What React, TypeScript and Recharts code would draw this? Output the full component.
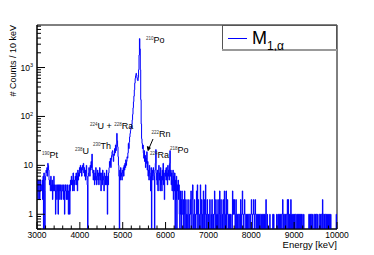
import { Legend, Line, LineChart, ReferenceArea, ReferenceDot, XAxis, YAxis } from 'recharts';

const FONT = '"Liberation Sans", Arial, sans-serif';

// 10 keV bins starting at 3000 keV, one row per 100 keV
const binStart = 3000;
const binWidth = 10;
const counts: number[] = [
  3, 5, 2, 4, 5, 3, 2, 5, 3, 4,
  4, 3, 5, 2, 6, 0, 7, 3, 0, 5,
  6, 8, 7, 9, 6, 11, 10, 8, 5, 4,
  5, 3, 6, 4, 3, 5, 2, 4, 3, 6,
  3, 4, 3, 1, 4, 3, 2, 4, 3, 1,
  4, 3, 4, 2, 3, 4, 3, 2, 4, 3,
  3, 4, 2, 3, 1, 4, 3, 4, 2, 3,
  2, 4, 3, 1, 3, 4, 1, 3, 5, 4,
  6, 4, 5, 3, 7, 4, 3, 5, 4, 6,
  5, 7, 4, 6, 3, 8, 5, 7, 6, 9,
  8, 10, 7, 9, 6, 8, 10, 9, 11, 7,
  9, 6, 8, 5, 7, 10, 6, 4, 0, 6,
  7, 9, 8, 6, 10, 8, 12, 9, 17, 8,
  7, 5, 8, 6, 4, 7, 5, 9, 6, 4,
  6, 8, 5, 7, 4, 6, 9, 5, 7, 3,
  5, 7, 4, 8, 6, 5, 3, 7, 6, 4,
  6, 4, 8, 5, 1, 6, 4, 7, 9, 12,
  10, 14, 9, 13, 16, 19, 20, 15, 12, 17,
  16, 22, 18, 26, 20, 28, 45, 32, 24, 15,
  10, 6, 0, 8, 5, 9, 6, 7, 5, 8,
  7, 9, 6, 10, 8, 11, 9, 13, 10, 12,
  15, 14, 18, 28, 22, 30, 38, 45, 52, 60,
  58, 70, 85, 110, 150, 200, 260, 350, 480, 600,
  680, 760, 700, 620, 560, 540, 620, 900, 1800, 3900,
  2400, 900, 220, 70, 35, 28, 22, 26, 18, 14,
  20, 12, 16, 9, 14, 11, 19, 8, 12, 6,
  8, 5, 10, 7, 6, 3, 9, 0, 6, 8,
  5, 9, 7, 6, 0, 8, 11, 21, 7, 5,
  4, 8, 3, 6, 10, 5, 7, 3, 9, 4,
  6, 3, 8, 5, 11, 4, 7, 2, 5, 8,
  6, 9, 5, 7, 4, 10, 6, 8, 5, 11,
  20, 6, 8, 4, 7, 3, 5, 8, 2, 6,
  3, 7, 0, 5, 2, 6, 0, 4, 3, 5,
  2, 4, 1, 0, 3, 1, 2, 0, 3, 1,
  1, 2, 0, 1, 3, 0, 1, 2, 0, 1,
  0, 1, 2, 1, 0, 1, 0, 2, 1, 3,
  1, 0, 2, 4, 1, 0, 1, 2, 0, 1,
  0, 1, 3, 1, 4, 0, 2, 1, 0, 1,
  1, 4, 0, 1, 2, 0, 1, 0, 3, 1,
  0, 2, 1, 4, 0, 1, 0, 2, 1, 0,
  1, 0, 1, 2, 0, 0, 1, 0, 2, 1,
  0, 1, 0, 1, 3, 1, 0, 2, 1, 0,
  1, 0, 2, 1, 0, 1, 3, 0, 1, 2,
  1, 0, 1, 0, 2, 1, 0, 3, 1, 0,
  1, 3, 0, 1, 2, 1, 0, 1, 1, 0,
  1, 0, 1, 0, 0, 0, 3, 1, 2, 1,
  2, 1, 0, 1, 2, 0, 1, 1, 0, 1,
  1, 0, 1, 1, 0, 2, 1, 0, 1, 3,
  1, 1, 0, 1, 2, 1, 1, 0, 1, 0,
  1, 0, 1, 1, 0, 1, 1, 0, 1, 1,
  2, 1, 0, 1, 1, 2, 1, 0, 1, 2,
  1, 0, 1, 1, 0, 1, 0, 1, 1, 0,
  1, 1, 0, 0, 1, 0, 1, 1, 0, 1,
  0, 1, 0, 1, 2, 1, 0, 1, 0, 0,
  0, 0, 0, 1, 0, 0, 0, 0, 0, 0,
  1, 0, 1, 0, 0, 0, 0, 0, 0, 1,
  0, 0, 1, 0, 1, 1, 0, 1, 0, 1,
  1, 0, 1, 2, 1, 0, 1, 1, 0, 1,
  0, 1, 1, 0, 2, 1, 2, 0, 1, 0,
  1, 0, 2, 1, 0, 1, 0, 0, 1, 0,
  1, 0, 1, 1, 0, 0, 1, 0, 1, 1,
  0, 1, 0, 1, 1, 0, 1, 0, 1, 0,
  0, 0, 1, 0, 0, 0, 0, 0, 0, 0,
  0, 0, 0, 0, 1, 1, 0, 1, 0, 1,
  1, 0, 1, 0, 0, 0, 1, 1, 0, 1,
  0, 1, 1, 0, 1, 0, 0, 0, 1, 1,
  0, 1, 0, 1, 1, 0, 2, 1, 1, 0,
  1, 0, 1, 1, 0, 1, 0, 1, 0, 0,
  1, 0, 1, 0, 0, 1, 0, 0, 0, 0,
  0, 0, 0, 0, 0, 0, 0, 0, 1, 0,
];

const xMajorTicks = [3000, 4000, 5000, 6000, 7000, 8000, 9000, 10000];
const yMajorTicks = [1, 10, 100, 1000];
const yDomain: [number, number] = [0.5, 7400];
const xDomain: [number, number] = [3000, 10000];

// isotope labels: anchor point (energy, counts) for the start of the text
const annotations = [
  { e: 5543, n: 3100, nuclides: [['210', 'Po']] },
  { e: 4237, n: 55, nuclides: [['224', 'U'], ['228', 'Ra']] },
  { e: 4307, n: 21.6, nuclides: [['230', 'Th']] },
  { e: 3887, n: 17, nuclides: [['238', 'U']] },
  { e: 3117, n: 14.1, nuclides: [['190', 'Pt']] },
  { e: 5672, n: 38, nuclides: [['222', 'Rn']], arrow: true },
  { e: 5637, n: 14.1, nuclides: [['224', 'Ra']] },
  { e: 6103, n: 17.9, nuclides: [['218', 'Po']] },
];

// minor ticks every 200 keV, log minor ticks 2..9 per decade
const xTicks: number[] = [];
for (let v = xDomain[0]; v <= xDomain[1]; v += 200) xTicks.push(v);
const yTicks: number[] = [0.5, 0.6, 0.7, 0.8, 0.9];
for (const d of yMajorTicks) for (let k = 1; k <= 9; k++) if (d * k <= yDomain[1]) yTicks.push(d * k);

const ZERO = 0.1; // below the log axis, clipped at the frame
const data = counts.map((c, i) => ({ e: binStart + i * binWidth, n: c > 0 ? c : ZERO }));
data.push({ e: xDomain[1], n: data[data.length - 1].n });

const isMajorX = (v: number) => xMajorTicks.includes(v);
const isMajorY = (v: number) => yMajorTicks.some((m) => Math.abs(m - v) < 1e-9);

const XTick = ({ x, y, payload }: any) => {
  const major = isMajorX(payload.value);
  return (
    <g>
      <line x1={x} x2={x} y1={y} y2={y - (major ? 7 : 3.5)} stroke='#000' />
      {major && (
        <text x={x} y={y + 9} textAnchor='middle' fontSize={8.5} fontFamily={FONT} fill='#000'>
          {payload.value}
        </text>
      )}
    </g>
  );
};

const YTick = ({ x, y, payload }: any) => {
  const v = payload.value;
  const major = isMajorY(v);
  const exp = Math.round(Math.log10(v));
  return (
    <g>
      <line x1={x} x2={x + (major ? 8 : 4)} y1={y} y2={y} stroke='#000' />
      {major && (
        <text x={x - 4} y={y + 3} textAnchor='end' fontSize={8.5} fontFamily={FONT} fill='#000'>
          {exp === 0 ? '1' : '10'}
          {exp >= 2 && (
            <tspan dy={-3.5} fontSize={5.5}>
              {exp}
            </tspan>
          )}
        </text>
      )}
    </g>
  );
};

const XTitle = ({ viewBox }: any) => (
  <text
    x={viewBox.x + viewBox.width}
    y={viewBox.y + 19}
    textAnchor='end'
    fontSize={9.5}
    fontFamily={FONT}
    fill='#000'
  >
    Energy [keV]
  </text>
);

const YTitle = ({ viewBox }: any) => (
  <text
    transform={`translate(16, ${viewBox.y}) rotate(-90)`}
    textAnchor='end'
    fontSize={9}
    fontFamily={FONT}
    fill='#000'
  >
    # Counts / 10 keV
  </text>
);

const IsotopeLabel = ({ viewBox, nuclides, arrow }: any) => {
  const x = viewBox.x;
  const y = viewBox.y;
  return (
    <g>
      <text x={x} y={y} fontSize={9} fontFamily={FONT} fill='#000'>
        {nuclides.map(([mass, sym]: string[], i: number) => (
          <tspan key={i}>
            {i > 0 && <tspan> + </tspan>}
            <tspan dy={-3} fontSize={4.5} fill='#333'>
              {mass}
            </tspan>
            <tspan dy={3}>{sym}</tspan>
          </tspan>
        ))}
      </text>
      {arrow && (
        <g stroke='#000' fill='#000'>
          <line x1={x + 1.5} y1={y + 2} x2={x - 2.6} y2={y + 11.5} />
          <path d={`M ${x - 3.4} ${y + 13.6} L ${x - 4.2} ${y + 9.6} L ${x - 1.2} ${y + 10.9} Z`} />
        </g>
      )}
    </g>
  );
};

const LegendBox = () => (
  <svg width={115} height={26} style={{ display: 'block' }}>
    <rect x={0.5} y={0.5} width={114} height={24} fill='#fff' stroke='#555' />
    <line x1={0} x2={115} y1={25} y2={25} stroke='#999' strokeWidth={2} />
    <line x1={6} x2={25} y1={13.5} y2={13.5} stroke='#0000ff' />
    <text x={30} y={18.5} fontSize={18} fontFamily={FONT} fill='#000'>
      M
      <tspan dy={6} fontSize={12}>
        1,α
      </tspan>
    </text>
  </svg>
);

export default function App() {
  return (
    <div style={{ position: 'absolute', left: 0, top: 0, width: 374, height: 255, background: '#fff', fontFamily: FONT }}>
      <LineChart width={374} height={255} data={data} margin={{ top: 25, right: 37, bottom: 0, left: 0 }}>
        <XAxis
          dataKey='e'
          type='number'
          domain={xDomain}
          allowDataOverflow
          ticks={xTicks}
          interval={0}
          tickLine={false}
          tickSize={0}
          tickMargin={0}
          tick={<XTick />}
          axisLine={{ stroke: '#000' }}
          height={26}
          label={<XTitle />}
        />
        <YAxis
          scale='log'
          domain={yDomain}
          allowDataOverflow
          ticks={yTicks}
          interval={0}
          tickLine={false}
          tickSize={0}
          tickMargin={0}
          tick={<YTick />}
          axisLine={{ stroke: '#000' }}
          width={37}
          label={<YTitle />}
        />
        <ReferenceArea x1={xDomain[0]} x2={xDomain[1]} y1={yDomain[0]} y2={yDomain[1]} fill='none' stroke='#000' />
        <Line
          type='stepAfter'
          dataKey='n'
          stroke='#0000ff'
          strokeWidth={1}
          dot={false}
          isAnimationActive={false}
        />
        {annotations.map((a, i) => (
          <ReferenceDot
            key={i}
            x={a.e}
            y={a.n}
            r={0}
            fill='none'
            stroke='none'
            ifOverflow='visible'
            label={<IsotopeLabel nuclides={a.nuclides} arrow={a.arrow} />}
          />
        ))}
        <Legend
          layout='horizontal'
          verticalAlign='middle'
          content={() => <LegendBox />}
          wrapperStyle={{ position: 'absolute', left: 222, top: 25, width: 115, height: 26 }}
        />
      </LineChart>
    </div>
  );
}
